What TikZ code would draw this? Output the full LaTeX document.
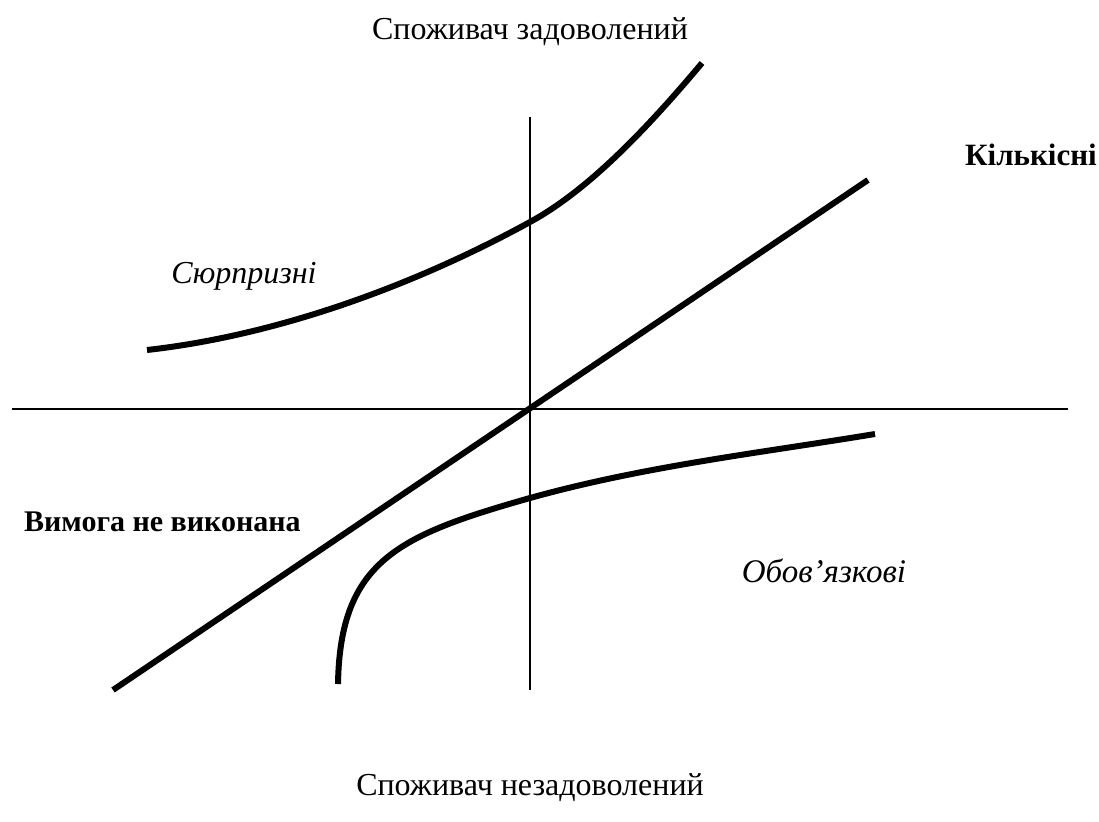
\documentclass[tikz,border=0pt]{standalone}
\usepackage{fontspec}
\setmainfont{Liberation Serif}
\begin{document}
\begin{tikzpicture}[x=1pt,y=-1pt,
  axis/.style={line width=1.6pt},
  curve/.style={line width=6pt},
  lbl/.style={inner sep=0pt,anchor=base,font=\fontsize{32}{36}\selectfont}]
\useasboundingbox (0,0) rectangle (1099,821);
% axes
\coordinate (vtop) at (530,117);
\coordinate (vbot) at (530,690);
\coordinate (hl) at (12,409);
\coordinate (hr) at (1068,409);
\draw[axis] (vtop) -- (vbot);
\draw[axis] (hl) -- (hr);
% linear (quantity)
\coordinate (ls) at (113,690);
\coordinate (le) at (868,180);
\draw[curve] (ls) -- (le);
% attractive
\coordinate (a0) at (147,350);
\coordinate (a1) at (530,222);
\coordinate (a2) at (702,63);
\draw[curve] (a0) .. controls (290,334) and (430,277) .. (a1)
                  .. controls (587,191) and (645,131) .. (a2);
% must-be
\coordinate (m0) at (338,684);
\coordinate (m1) at (530,498);
\coordinate (m2) at (875,434);
\draw[curve] (m0) .. controls (340,560) and (400,535) .. (m1)
                  .. controls (645,466) and (760,453) .. (m2);
% labels
\node[lbl] (top) at (530,40) {Споживач задоволений};
\node[lbl] (bot) at (530,795) {Споживач незадоволений};
\node[lbl,font=\fontsize{31}{36}\selectfont\bfseries] (kil) at (1031,165) {Кількісні};
\node[lbl,font=\fontsize{32}{36}\selectfont\itshape] (syu) at (244,283) {Сюрпризні};
\node[lbl,font=\fontsize{30}{36}\selectfont\bfseries,anchor=base west] (vym) at (24,531) {Вимога не виконана};
\node[lbl,font=\fontsize{33}{36}\selectfont\itshape] (obo) at (824,582) {Обов’язкові};
\end{tikzpicture}
\end{document}
